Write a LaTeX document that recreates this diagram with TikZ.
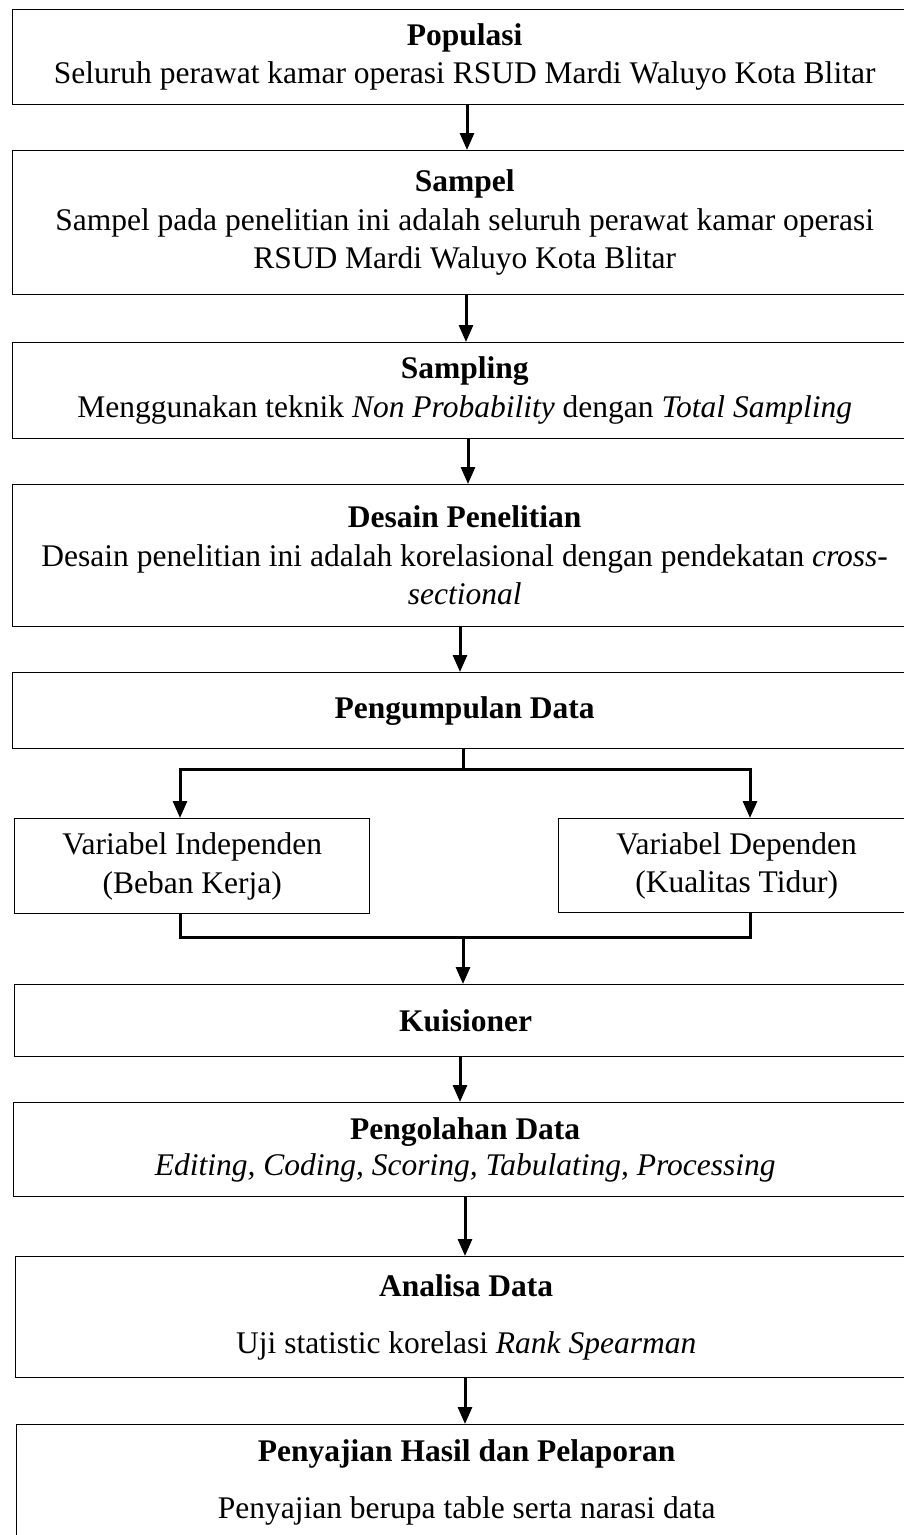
\documentclass[tikz,border=0pt]{standalone}
\usepackage{fontspec}
\setmainfont{Liberation Serif}
\usetikzlibrary{arrows.meta}
\begin{document}
\begin{tikzpicture}[x=1pt,y=-1pt,
  box/.style={draw,line width=1.4pt,rectangle,inner sep=0pt,anchor=north west,align=center,
    font=\fontsize{31.5}{38.5}\selectfont},
  conn/.style={line width=3pt},
  arr/.style={line width=3pt,-{Triangle[length=17pt,width=14pt]}}]
\clip (0,0) rectangle (904,1535);
\fill[white] (0,0) rectangle (904,1535);
% boxes
\node[box,minimum width=904pt,minimum height=95pt] (b1) at (12,9)
  {\textbf{Populasi}\\Seluruh perawat kamar operasi RSUD Mardi Waluyo Kota Blitar};
\node[box,minimum width=904pt,minimum height=144pt] (b2) at (12,150)
  {\textbf{Sampel}\\Sampel pada penelitian ini adalah seluruh perawat kamar operasi\\RSUD Mardi Waluyo Kota Blitar};
\node[box,minimum width=904pt,minimum height=96pt] (b3) at (12,342)
  {\textbf{Sampling}\\Menggunakan teknik \textit{Non Probability} dengan \textit{Total Sampling}};
\node[box,minimum width=904pt,minimum height=142pt] (b4) at (12,484)
  {\textbf{Desain Penelitian}\\Desain penelitian ini adalah korelasional dengan pendekatan \textit{cross-}\\\textit{sectional}};
\node[box,minimum width=904pt,minimum height=76pt] (b5) at (12,672)
  {\textbf{Pengumpulan Data}};
\node[box,minimum width=355pt,minimum height=95pt] (vi) at (14,818)
  {Variabel Independen\\(Beban Kerja)};
\node[box,minimum width=356pt,minimum height=94pt] (vd) at (558,818)
  {Variabel Dependen\\(Kualitas Tidur)};
\node[box,minimum width=902pt,minimum height=72pt] (b6) at (14,984)
  {\textbf{Kuisioner}};
\node[box,minimum width=903pt,minimum height=94pt] (b7) at (13,1102)
  {\textbf{Pengolahan Data}\\[-2pt]\textit{Editing, Coding, Scoring, Tabulating, Processing}};
\node[box,minimum width=901pt,minimum height=121pt] (b8) at (15,1256)
  {\textbf{Analisa Data}\\[18pt]Uji statistic korelasi \textit{Rank Spearman}};
\node[box,minimum width=900pt,minimum height=116pt] (b9) at (16,1424)
  {\textbf{Penyajian Hasil dan Pelaporan}\\[19pt]Penyajian berupa table serta narasi data};
% coordinates
\coordinate (forkL) at (180,769);
\coordinate (forkR) at (750,769);
\coordinate (forkM) at (463,769);
\coordinate (joinL) at (180,937);
\coordinate (joinR) at (750,937);
\coordinate (joinM) at (463,937);
% connectors
\draw[arr] (b1.south -| 467,0) -- (b2.north -| 467,0);
\draw[arr] (b2.south -| 466,0) -- (b3.north -| 466,0);
\draw[arr] (b3.south -| 468,0) -- (b4.north -| 468,0);
\draw[arr] (b4.south -| 460,0) -- (b5.north -| 460,0);
\draw[conn] (b5.south -| forkM) -- (forkM);
\draw[conn,{Triangle[length=17pt,width=14pt]}-{Triangle[length=17pt,width=14pt]}]
  (vi.north -| forkL) -- (forkL) -- (forkR) -- (vd.north -| forkR);
\draw[conn] (vi.south -| joinL) -- (joinL) -- (joinR) -- (vd.south -| joinR);
\draw[arr] (joinM) -- (b6.north -| joinM);
\draw[arr] (b6.south -| 460,0) -- (b7.north -| 460,0);
\draw[arr] (b7.south -| 465,0) -- (b8.north -| 465,0);
\draw[arr] (b8.south -| 465,0) -- (b9.north -| 465,0);
\end{tikzpicture}
\end{document}
